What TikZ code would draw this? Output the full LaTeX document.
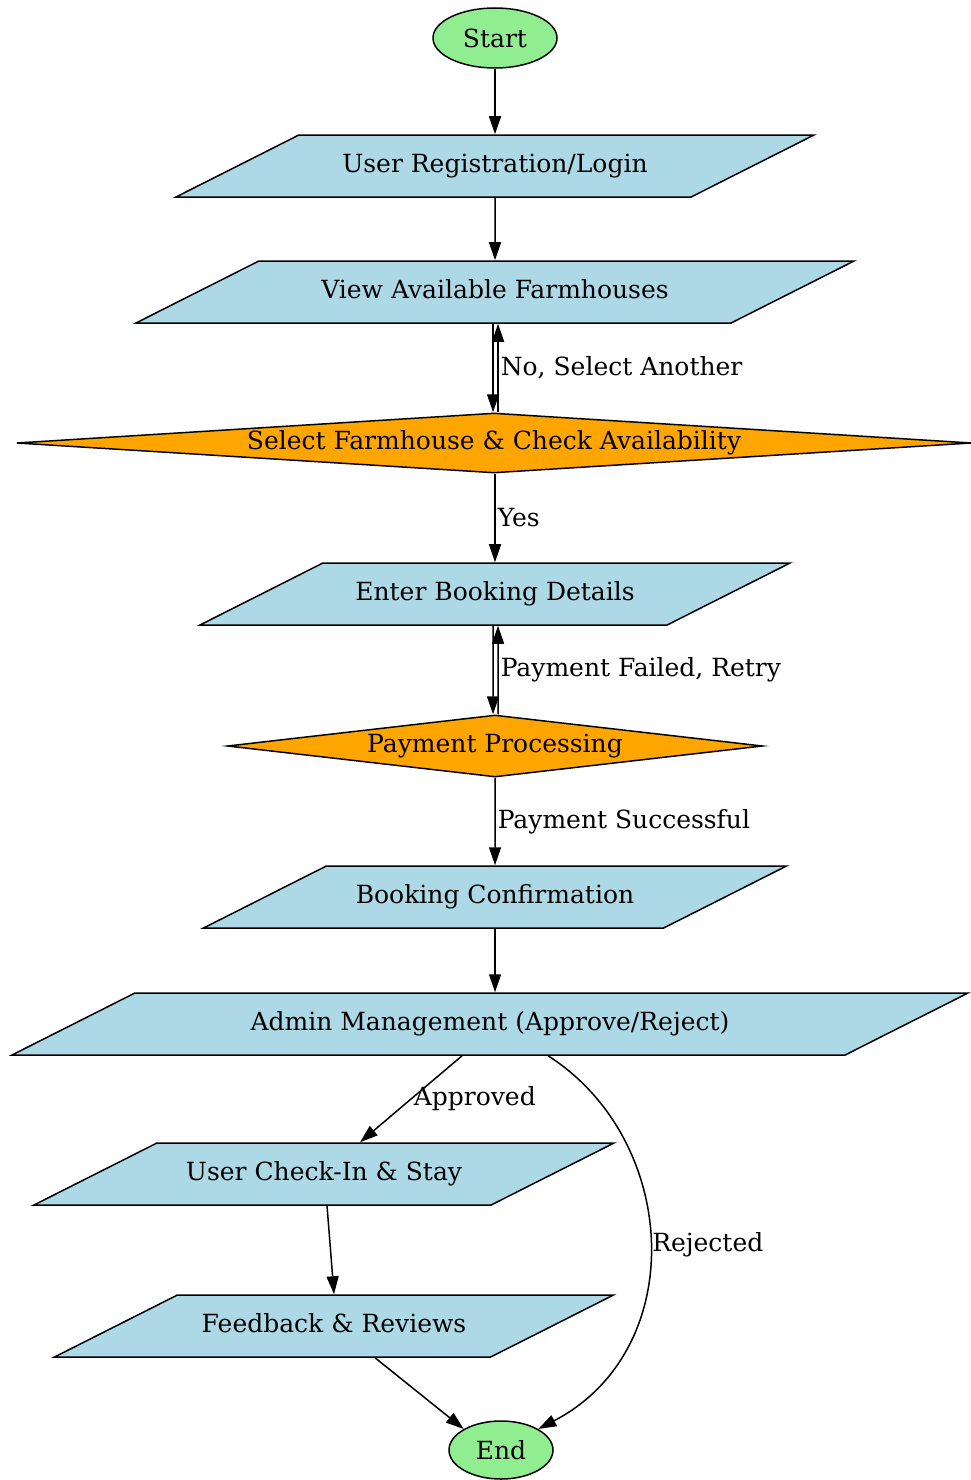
\documentclass[tikz,border=0pt]{standalone}
\usepackage{fontspec}
\setmainfont{DejaVu Serif}
\usetikzlibrary{shapes.geometric,arrows.meta}
\definecolor{termgreen}{HTML}{90EE90}
\definecolor{stepblue}{HTML}{ADD8E6}
\definecolor{choiceorange}{HTML}{FFA500}

\begin{document}
\begin{tikzpicture}[x=1pt, y=-1pt,
  every node/.style={font=\fontsize{25}{29}\selectfont},
  terminal/.style={ellipse, draw, line width=1.5pt, fill=termgreen, inner sep=0pt},
  iobox/.style={trapezium, trapezium left angle=11.5, trapezium right angle=168.5,
    trapezium stretches body, draw, line width=1.5pt, fill=stepblue,
    text height=19pt, text depth=6pt, minimum height=62pt, inner sep=0pt},
  choice/.style={diamond, draw, line width=1.5pt, fill=choiceorange, inner sep=0pt},
  flow/.style={-{Triangle[length=18pt,width=12pt]}, line width=1.5pt},
  lbl/.style={right, inner sep=2pt}]
  \useasboundingbox (0,0) rectangle (970,1480);

  % Draw the steps of the main column
  \node[terminal, minimum width=124pt, minimum height=60pt] (start) at (495,38) {Start};
  \node[iobox, minimum width=638pt] (login) at (495,166) {User Registration/Login};
  \node[iobox, minimum width=718pt] (view) at (495,292) {View Available Farmhouses};
  \node[choice, aspect=15.9, minimum width=955pt, minimum height=60pt] (select) at (494,443) {Select Farmhouse \& Check Availability};
  \node[iobox, minimum width=590pt] (details) at (495,594) {Enter Booking Details};
  \node[choice, aspect=8.6, minimum width=535pt, minimum height=62pt] (payment) at (495,746) {Payment Processing};
  \node[iobox, minimum width=583pt] (confirm) at (495,897) {Booking Confirmation};
  \node[iobox, minimum width=956pt] (admin) at (490,1024) {Admin Management (Approve/Reject)};

  % Draw the approved branch and the end
  \node[iobox, minimum width=580pt] (checkin) at (324,1174) {User Check-In \& Stay};
  \node[iobox, minimum width=559pt] (feedback) at (334,1326) {Feedback \& Reviews};
  \node[terminal, minimum width=104pt, minimum height=58pt] (end) at (501,1450) {End};

  % Draw the arrows
  \draw[flow] (start) -- (login);
  \draw[flow] (login) -- (view);
  \draw[flow] ([xshift=-2pt]view.south) -- ([xshift=-2pt]view.south |- select.north);
  \draw[flow] ([xshift=3pt]view.south |- select.north) -- node[lbl] {No, Select Another} ([xshift=3pt]view.south);
  \draw[flow] (details.north |- select.south) -- node[lbl] {Yes} (details.north);
  \draw[flow] ([xshift=-2pt]details.south) -- ([xshift=-2pt]payment.north);
  \draw[flow] ([xshift=3pt]payment.north) -- node[lbl] {Payment Failed, Retry} ([xshift=3pt]details.south);
  \draw[flow] (payment.south) -- node[lbl] {Payment Successful} (confirm.north);
  \draw[flow] (confirm.south) -- (confirm.south |- admin.north);
  \draw[flow] ([xshift=-28pt]admin.south) -- node[lbl] {Approved} ([xshift=36pt]checkin.north);
  \draw[flow] ([xshift=58pt]admin.south) .. controls (680,1140) and (690,1350) .. node[lbl] {Rejected} (end.north east);
  \draw[flow] ([xshift=3pt]checkin.south) -- (feedback.north);
  \draw[flow] ([xshift=41pt]feedback.south) -- (end.north west);
\end{tikzpicture}
\end{document}
